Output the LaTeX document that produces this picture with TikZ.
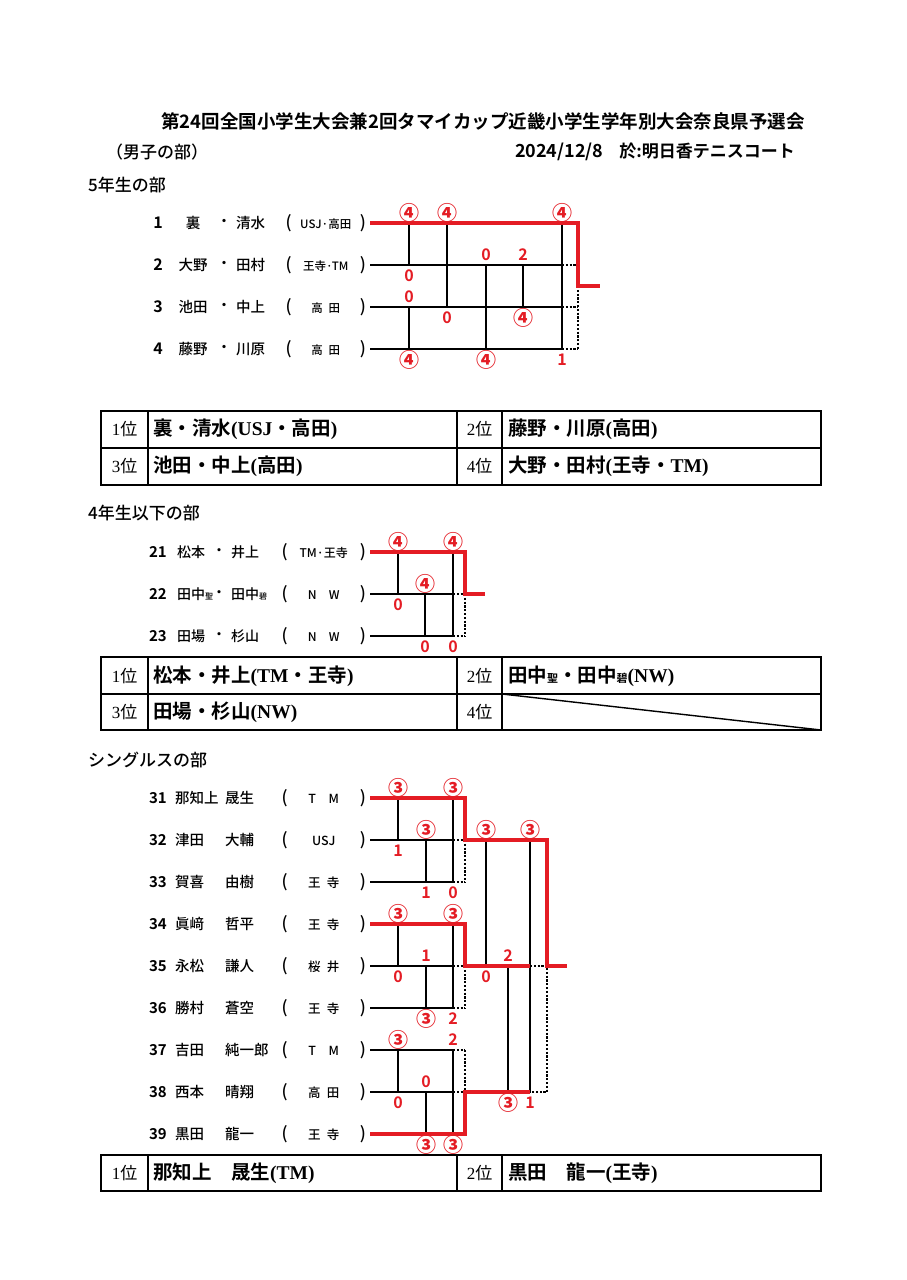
\documentclass[tikz,border=0pt]{standalone}
\usepackage{fontspec}
\setmainfont{Noto Sans CJK JP}[BoldFont={Noto Sans CJK JP Bold}]
\newfontfamily\jpmed{Noto Sans CJK JP Medium}
\newfontfamily\serlat{Liberation Serif}
\usetikzlibrary{positioning}
\definecolor{winr}{RGB}{228,28,36}
\newcommand{\fsz}[1]{\fontsize{#1}{#1}\selectfont}
\newcommand{\lat}[1]{{\serlat #1}}
\newcommand{\rg}[1]{{\jpmed\fsz{20}#1}}
\newcommand{\pa}[1]{{\fsz{17}#1}}

\begin{document}
\begin{tikzpicture}[x=1pt,y=-1pt,inner sep=0pt,
  head/.style={font=\jpmed\fsz{17}},
  seed/.style={anchor=east,font=\fsz{15}\bfseries},
  pname/.style={font=\jpmed\fsz{14.5}},
  club/.style={anchor=east,font=\jpmed\fsz{14.5}},
  bline/.style={line width=1.4pt},
  dline/.style={line width=1.1pt,dash pattern=on 2.2pt off 1.6pt},
  rline/.style={winr,line width=4pt},
  score/.style={winr,font=\fsz{16}\bfseries},
  cell/.style={line width=1.6pt},
  rank/.style={font=\fsz{17}},
  winner/.style={anchor=west,font=\fsz{19.5}\bfseries}]
\useasboundingbox (0,0) rectangle (906,1280);
\fill[white] (0,0) rectangle (906,1280);

% headings
\node[font=\fsz{18.5}\bfseries] (title) at (483,121) {第24回全国小学生大会兼2回タマイカップ近畿小学生学年別大会奈良県予選会};
\node[head,anchor=west] (div) at (106,152) {（男子の部）};
\node[anchor=east,font=\fsz{17}\bfseries] (date) at (795,152) {{\fsz{18}2024/12/8}\hspace{16pt}於:明日香テニスコート};
\node[head,anchor=west] (h5) at (88,185) {5年生の部};
\node[head,anchor=west] (h4) at (88,513) {4年生以下の部};
\node[head,anchor=west] (hs) at (88,760) {シングルスの部};

% 5年生の部: round robin of four
\foreach \i/\y/\fa/\gi/\tm in {1/223/裏/清水/USJ·高田, 2/265/大野/田村/王寺·TM, 3/307/池田/中上/高\enspace 田, 4/349/藤野/川原/高\enspace 田} {
  \coordinate (a\i) at (370,\y);
  \node[seed,font=\fsz{16}\bfseries] (na\i) at (163,\y) {\i};
  \node[pname] (fa\i) at (193,\y) {\fa};
  \node[pname] (da\i) at (224,\y) {・};
  \node[pname,anchor=west] (ga\i) at (236,\y) {\gi};
  \node[club] (ca\i) at (366,\y) {\pa{(}\makebox[68pt]{\fsz{11.5}\tm}\pa{)}};
}
\foreach \k/\x in {1/409,2/447,3/486,4/523,5/562} \coordinate (ak\k) at (\x,0);
\coordinate (aend) at (578,0);
\coordinate (aout) at (600,286);
\foreach \i in {2,3,4} {
  \draw[bline] (a\i) -- (ak5 |- a\i);
  \draw[dline] (ak5 |- a\i) -- (aend |- a\i);
}
\foreach \k/\p/\q/\s/\t in {1/1/2/\rg{④}/0, 1/3/4/0/\rg{④}, 2/1/3/\rg{④}/0, 3/2/4/0/\rg{④}, 4/2/3/2/\rg{④}, 5/1/4/\rg{④}/1} {
  \draw[bline] (ak\k |- a\p) -- (ak\k |- a\q);
  \node[score] (sa\k\p) at ([yshift=10.5pt]ak\k |- a\p) {\s};
  \node[score] (ta\k\q) at ([yshift=-10.5pt]ak\k |- a\q) {\t};
}
\draw[dline] (aend |- aout) -- (aend |- a4);
\draw[rline] (a1) -- (aend |- a1) -- (aend |- aout) -- (aout);

% 4年生以下の部: round robin of three
\foreach \i/\n/\y/\fa/\gi/\tm in {1/21/552/松本/井上/TM·王寺, 2/22/594/田中{\fsz{8}聖}/田中{\fsz{8}碧}/N\quad W, 3/23/636/田場/杉山/N\quad W} {
  \coordinate (b\i) at (370,\y);
  \node[seed] (nb\i) at (167,\y) {\n};
  \node[pname,anchor=west,font=\jpmed\fsz{14}] (fb\i) at (177,\y) {\fa};
  \node[pname,font=\jpmed\fsz{14}] (db\i) at (219,\y) {・};
  \node[pname,anchor=west,font=\jpmed\fsz{14}] (gb\i) at (231,\y) {\gi};
  \node[club] (cb\i) at (366,\y) {\pa{(}\makebox[72pt]{\fsz{12}\tm}\pa{)}};
}
\foreach \k/\x in {1/398,2/425,3/453} \coordinate (bk\k) at (\x,0);
\coordinate (bend) at (465,0);
\coordinate (bout) at (485,594);
\foreach \i in {2,3} {
  \draw[bline] (b\i) -- (bk3 |- b\i);
  \draw[dline] (bk3 |- b\i) -- (bend |- b\i);
}
\foreach \k/\p/\q/\s/\t in {1/1/2/\rg{④}/0, 2/2/3/\rg{④}/0, 3/1/3/\rg{④}/0} {
  \draw[bline] (bk\k |- b\p) -- (bk\k |- b\q);
  \node[score] (sb\k\p) at ([yshift=10.5pt]bk\k |- b\p) {\s};
  \node[score] (tb\k\q) at ([yshift=-10.5pt]bk\k |- b\q) {\t};
}
\draw[dline] (bend |- b2) -- (bend |- b3);
\draw[rline] (b1) -- (bend |- b1) -- (bend |- bout) -- (bout);

% シングルスの部: three groups of three, then the group winners
\foreach \i/\fa/\gi/\tm in {1/那知上/晟生/T\quad M, 2/津田/大輔/USJ, 3/賀喜/由樹/王\enspace 寺, 4/眞﨑/哲平/王\enspace 寺, 5/永松/謙人/桜\enspace 井, 6/勝村/蒼空/王\enspace 寺, 7/吉田/純一郎/T\quad M, 8/西本/晴翔/高\enspace 田, 9/黒田/龍一/王\enspace 寺} {
  \pgfmathsetmacro\y{756+42*\i}
  \pgfmathtruncatemacro\sd{30+\i}
  \coordinate (c\i) at (370,\y);
  \node[seed] (nc\i) at (167,\y) {\sd};
  \node[pname,anchor=west] (fc\i) at (175,\y) {\fa};
  \node[pname,anchor=west] (gc\i) at (225,\y) {\gi};
  \node[club] (cc\i) at (366,\y) {\pa{(}\makebox[72pt]{\fsz{12.5}\tm}\pa{)}};
}
\foreach \k/\x in {1/398,2/426,3/453,4/486,5/508,6/530} \coordinate (ck\k) at (\x,0);
\coordinate (cend) at (465,0);
\coordinate (fend) at (547,0);
\coordinate (cout) at (567,966);
\foreach \i in {2,3,5,6,7,8} {
  \draw[bline] (c\i) -- (ck3 |- c\i);
  \draw[dline] (ck3 |- c\i) -- (cend |- c\i);
}
\foreach \k/\p/\q/\s/\t in {1/1/2/\rg{③}/1, 2/2/3/\rg{③}/1, 3/1/3/\rg{③}/0, 1/4/5/\rg{③}/0, 2/5/6/1/\rg{③}, 3/4/6/\rg{③}/2, 1/7/8/\rg{③}/0, 2/8/9/0/\rg{③}, 3/7/9/2/\rg{③}, 4/2/5/\rg{③}/0, 5/5/8/2/\rg{③}, 6/2/8/\rg{③}/1} {
  \draw[bline] (ck\k |- c\p) -- (ck\k |- c\q);
  \node[score] (sc\k\p) at ([yshift=10.5pt]ck\k |- c\p) {\s};
  \node[score] (tc\k\q) at ([yshift=-10.5pt]ck\k |- c\q) {\t};
}
\draw[dline] (cend |- c2) -- (cend |- c3);
\draw[dline] (cend |- c5) -- (cend |- c6);
\draw[dline] (cend |- c7) -- (cend |- c8);
\draw[dline] (ck6 |- c5) -- (fend |- c5) -- (fend |- c8) -- (ck6 |- c8);
\draw[rline] (c1) -- (cend |- c1) -- (cend |- c2) -- (fend |- c2) -- (fend |- cout) -- (cout);
\draw[rline] (c4) -- (cend |- c4) -- (cend |- c5) -- (ck6 |- c5);
\draw[rline] (c9) -- (cend |- c9) -- (cend |- c8) -- (ck6 |- c8);

% result tables
\foreach \top/\bot in {411/485, 657/730, 1155/1191} {
  \draw[cell] (101,\top) rectangle (821,\bot);
  \foreach \x in {148,457,502} \draw[cell] (\x,\top) -- (\x,\bot);
}
\draw[cell] (101,448) -- (821,448);
\draw[cell] (101,694) -- (821,694);
\draw[line width=1.4pt] (502,694) -- (821,730);
\foreach \id/\cx/\y/\rk/\nm in {
  p11/124.5/429.5/1/裏・清水\lat{(USJ}・高田\lat{)},
  p12/479.5/429.5/2/藤野・川原\lat{(}高田\lat{)},
  p13/124.5/466.5/3/池田・中上\lat{(}高田\lat{)},
  p14/479.5/466.5/4/大野・田村\lat{(}王寺・\lat{TM)},
  p21/124.5/676/1/松本・井上\lat{(TM}・王寺\lat{)},
  p22/479.5/676/2/田中{\fsz{11}聖}・田中{\fsz{11}碧}\lat{(NW)},
  p23/124.5/712/3/田場・杉山\lat{(NW)},
  p24/479.5/712/4/{},
  p31/124.5/1173/1/那知上\quad 晟生\lat{(TM)},
  p32/479.5/1173/2/黒田\quad 龍一\lat{(}王寺\lat{)}} {
  \node[rank] (r\id) at (\cx,\y) {\lat{\rk}位};
  \node[winner] (w\id) at (\cx+28.5,\y) {\nm};
}
\end{tikzpicture}
\end{document}
